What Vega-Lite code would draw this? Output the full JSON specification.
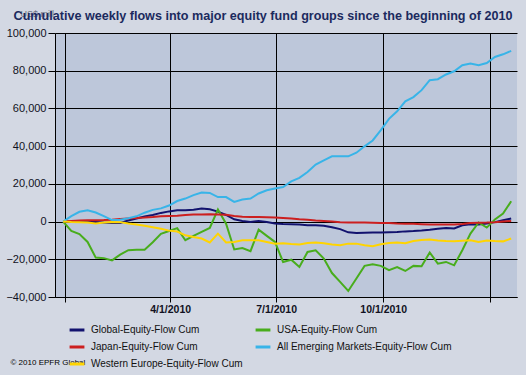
{
  "$schema": "https://vega.github.io/schema/vega-lite/v6.json",
  "autosize": "none",
  "width": 462,
  "height": 264,
  "padding": {"left": 55, "top": 33, "right": 9, "bottom": 78},
  "background": "#d3d8e3",
  "title": {
    "text": "Cumulative weekly flows into major equity fund groups since the beginning of 2010",
    "anchor": "middle",
    "dx": -23,
    "dy": 20,
    "fontSize": 12.6,
    "font": "Liberation Sans",
    "fontWeight": "bold",
    "color": "#1b2a5e",
    "offset": 6
  },
  "config": {
    "view": {"stroke": null, "fill": "#bdc7da"},
    "font": "Liberation Sans",
    "axis": {
      "domainColor": "#000000",
      "gridColor": "#000000",
      "gridOpacity": 1,
      "gridWidth": 1,
      "tickColor": "#000000",
      "labelColor": "#111122",
      "labelFont": "Liberation Sans"
    }
  },
  "data": {
    "values": [
      {"d": "2009-12-30", "Global-Equity-Flow Cum": 0, "USA-Equity-Flow Cum": 0, "Japan-Equity-Flow Cum": 0, "All Emerging Markets-Equity-Flow Cum": 0, "Western Europe-Equity-Flow Cum": 0},
      {"d": "2010-01-06", "Global-Equity-Flow Cum": 200, "USA-Equity-Flow Cum": -5000, "Japan-Equity-Flow Cum": 300, "All Emerging Markets-Equity-Flow Cum": 2900, "Western Europe-Equity-Flow Cum": -200},
      {"d": "2010-01-13", "Global-Equity-Flow Cum": 300, "USA-Equity-Flow Cum": -6600, "Japan-Equity-Flow Cum": 600, "All Emerging Markets-Equity-Flow Cum": 5200, "Western Europe-Equity-Flow Cum": -300},
      {"d": "2010-01-20", "Global-Equity-Flow Cum": 0, "USA-Equity-Flow Cum": -10800, "Japan-Equity-Flow Cum": 700, "All Emerging Markets-Equity-Flow Cum": 6000, "Western Europe-Equity-Flow Cum": -500},
      {"d": "2010-01-27", "Global-Equity-Flow Cum": -200, "USA-Equity-Flow Cum": -19100, "Japan-Equity-Flow Cum": 700, "All Emerging Markets-Equity-Flow Cum": 4800, "Western Europe-Equity-Flow Cum": -1000},
      {"d": "2010-02-03", "Global-Equity-Flow Cum": -500, "USA-Equity-Flow Cum": -19400, "Japan-Equity-Flow Cum": 800, "All Emerging Markets-Equity-Flow Cum": 2900, "Western Europe-Equity-Flow Cum": -500},
      {"d": "2010-02-10", "Global-Equity-Flow Cum": -700, "USA-Equity-Flow Cum": -20600, "Japan-Equity-Flow Cum": 1000, "All Emerging Markets-Equity-Flow Cum": 800, "Western Europe-Equity-Flow Cum": -200},
      {"d": "2010-02-17", "Global-Equity-Flow Cum": -700, "USA-Equity-Flow Cum": -17500, "Japan-Equity-Flow Cum": 1300, "All Emerging Markets-Equity-Flow Cum": 1000, "Western Europe-Equity-Flow Cum": -300},
      {"d": "2010-02-24", "Global-Equity-Flow Cum": 600, "USA-Equity-Flow Cum": -15200, "Japan-Equity-Flow Cum": 1600, "All Emerging Markets-Equity-Flow Cum": 1800, "Western Europe-Equity-Flow Cum": -1000},
      {"d": "2010-03-03", "Global-Equity-Flow Cum": 1600, "USA-Equity-Flow Cum": -15000, "Japan-Equity-Flow Cum": 1900, "All Emerging Markets-Equity-Flow Cum": 2800, "Western Europe-Equity-Flow Cum": -1600},
      {"d": "2010-03-10", "Global-Equity-Flow Cum": 2700, "USA-Equity-Flow Cum": -14900, "Japan-Equity-Flow Cum": 2100, "All Emerging Markets-Equity-Flow Cum": 4700, "Western Europe-Equity-Flow Cum": -2200},
      {"d": "2010-03-17", "Global-Equity-Flow Cum": 3500, "USA-Equity-Flow Cum": -11000, "Japan-Equity-Flow Cum": 2400, "All Emerging Markets-Equity-Flow Cum": 6200, "Western Europe-Equity-Flow Cum": -3000},
      {"d": "2010-03-24", "Global-Equity-Flow Cum": 4600, "USA-Equity-Flow Cum": -6500, "Japan-Equity-Flow Cum": 2800, "All Emerging Markets-Equity-Flow Cum": 7000, "Western Europe-Equity-Flow Cum": -3800},
      {"d": "2010-03-31", "Global-Equity-Flow Cum": 5400, "USA-Equity-Flow Cum": -5000, "Japan-Equity-Flow Cum": 3000, "All Emerging Markets-Equity-Flow Cum": 8500, "Western Europe-Equity-Flow Cum": -4800},
      {"d": "2010-04-07", "Global-Equity-Flow Cum": 6000, "USA-Equity-Flow Cum": -3500, "Japan-Equity-Flow Cum": 3100, "All Emerging Markets-Equity-Flow Cum": 10900, "Western Europe-Equity-Flow Cum": -5300},
      {"d": "2010-04-14", "Global-Equity-Flow Cum": 6000, "USA-Equity-Flow Cum": -9900, "Japan-Equity-Flow Cum": 3500, "All Emerging Markets-Equity-Flow Cum": 12200, "Western Europe-Equity-Flow Cum": -7300},
      {"d": "2010-04-21", "Global-Equity-Flow Cum": 6300, "USA-Equity-Flow Cum": -7600, "Japan-Equity-Flow Cum": 3700, "All Emerging Markets-Equity-Flow Cum": 14000, "Western Europe-Equity-Flow Cum": -8200},
      {"d": "2010-04-28", "Global-Equity-Flow Cum": 6900, "USA-Equity-Flow Cum": -5500, "Japan-Equity-Flow Cum": 3800, "All Emerging Markets-Equity-Flow Cum": 15400, "Western Europe-Equity-Flow Cum": -9000},
      {"d": "2010-05-05", "Global-Equity-Flow Cum": 6500, "USA-Equity-Flow Cum": -3400, "Japan-Equity-Flow Cum": 3900, "All Emerging Markets-Equity-Flow Cum": 15200, "Western Europe-Equity-Flow Cum": -11100},
      {"d": "2010-05-12", "Global-Equity-Flow Cum": 5300, "USA-Equity-Flow Cum": 6400, "Japan-Equity-Flow Cum": 3800, "All Emerging Markets-Equity-Flow Cum": 13000, "Western Europe-Equity-Flow Cum": -6400},
      {"d": "2010-05-19", "Global-Equity-Flow Cum": 3500, "USA-Equity-Flow Cum": -1100, "Japan-Equity-Flow Cum": 3600, "All Emerging Markets-Equity-Flow Cum": 13000, "Western Europe-Equity-Flow Cum": -11100},
      {"d": "2010-05-26", "Global-Equity-Flow Cum": 1200, "USA-Equity-Flow Cum": -14800, "Japan-Equity-Flow Cum": 3000, "All Emerging Markets-Equity-Flow Cum": 10400, "Western Europe-Equity-Flow Cum": -10800},
      {"d": "2010-06-02", "Global-Equity-Flow Cum": 300, "USA-Equity-Flow Cum": -14000, "Japan-Equity-Flow Cum": 2500, "All Emerging Markets-Equity-Flow Cum": 11700, "Western Europe-Equity-Flow Cum": -9900},
      {"d": "2010-06-09", "Global-Equity-Flow Cum": -200, "USA-Equity-Flow Cum": -15700, "Japan-Equity-Flow Cum": 2400, "All Emerging Markets-Equity-Flow Cum": 12200, "Western Europe-Equity-Flow Cum": -9900},
      {"d": "2010-06-16", "Global-Equity-Flow Cum": 300, "USA-Equity-Flow Cum": -4300, "Japan-Equity-Flow Cum": 2400, "All Emerging Markets-Equity-Flow Cum": 14900, "Western Europe-Equity-Flow Cum": -9900},
      {"d": "2010-06-23", "Global-Equity-Flow Cum": -200, "USA-Equity-Flow Cum": -7600, "Japan-Equity-Flow Cum": 2300, "All Emerging Markets-Equity-Flow Cum": 16600, "Western Europe-Equity-Flow Cum": -10800},
      {"d": "2010-06-30", "Global-Equity-Flow Cum": -1000, "USA-Equity-Flow Cum": -10800, "Japan-Equity-Flow Cum": 2100, "All Emerging Markets-Equity-Flow Cum": 17500, "Western Europe-Equity-Flow Cum": -11700},
      {"d": "2010-07-07", "Global-Equity-Flow Cum": -1300, "USA-Equity-Flow Cum": -21400, "Japan-Equity-Flow Cum": 1900, "All Emerging Markets-Equity-Flow Cum": 18300, "Western Europe-Equity-Flow Cum": -11500},
      {"d": "2010-07-14", "Global-Equity-Flow Cum": -1400, "USA-Equity-Flow Cum": -20200, "Japan-Equity-Flow Cum": 1600, "All Emerging Markets-Equity-Flow Cum": 21300, "Western Europe-Equity-Flow Cum": -11900},
      {"d": "2010-07-21", "Global-Equity-Flow Cum": -1600, "USA-Equity-Flow Cum": -24100, "Japan-Equity-Flow Cum": 1200, "All Emerging Markets-Equity-Flow Cum": 23200, "Western Europe-Equity-Flow Cum": -12200},
      {"d": "2010-07-28", "Global-Equity-Flow Cum": -2000, "USA-Equity-Flow Cum": -16100, "Japan-Equity-Flow Cum": 1000, "All Emerging Markets-Equity-Flow Cum": 26300, "Western Europe-Equity-Flow Cum": -11400},
      {"d": "2010-08-04", "Global-Equity-Flow Cum": -2000, "USA-Equity-Flow Cum": -15200, "Japan-Equity-Flow Cum": 600, "All Emerging Markets-Equity-Flow Cum": 30200, "Western Europe-Equity-Flow Cum": -11100},
      {"d": "2010-08-11", "Global-Equity-Flow Cum": -2200, "USA-Equity-Flow Cum": -19600, "Japan-Equity-Flow Cum": 300, "All Emerging Markets-Equity-Flow Cum": 32500, "Western Europe-Equity-Flow Cum": -11500},
      {"d": "2010-08-18", "Global-Equity-Flow Cum": -3000, "USA-Equity-Flow Cum": -27300, "Japan-Equity-Flow Cum": 0, "All Emerging Markets-Equity-Flow Cum": 34600, "Western Europe-Equity-Flow Cum": -12200},
      {"d": "2010-08-25", "Global-Equity-Flow Cum": -4000, "USA-Equity-Flow Cum": -32000, "Japan-Equity-Flow Cum": -400, "All Emerging Markets-Equity-Flow Cum": 34600, "Western Europe-Equity-Flow Cum": -12600},
      {"d": "2010-09-01", "Global-Equity-Flow Cum": -5700, "USA-Equity-Flow Cum": -36800, "Japan-Equity-Flow Cum": -500, "All Emerging Markets-Equity-Flow Cum": 34600, "Western Europe-Equity-Flow Cum": -11700},
      {"d": "2010-09-08", "Global-Equity-Flow Cum": -6000, "USA-Equity-Flow Cum": -30200, "Japan-Equity-Flow Cum": -500, "All Emerging Markets-Equity-Flow Cum": 36500, "Western Europe-Equity-Flow Cum": -11700},
      {"d": "2010-09-15", "Global-Equity-Flow Cum": -5900, "USA-Equity-Flow Cum": -23500, "Japan-Equity-Flow Cum": -500, "All Emerging Markets-Equity-Flow Cum": 39900, "Western Europe-Equity-Flow Cum": -12500},
      {"d": "2010-09-22", "Global-Equity-Flow Cum": -5800, "USA-Equity-Flow Cum": -22700, "Japan-Equity-Flow Cum": -600, "All Emerging Markets-Equity-Flow Cum": 43000, "Western Europe-Equity-Flow Cum": -13100},
      {"d": "2010-09-29", "Global-Equity-Flow Cum": -5800, "USA-Equity-Flow Cum": -23500, "Japan-Equity-Flow Cum": -700, "All Emerging Markets-Equity-Flow Cum": 48500, "Western Europe-Equity-Flow Cum": -12000},
      {"d": "2010-10-06", "Global-Equity-Flow Cum": -5600, "USA-Equity-Flow Cum": -25800, "Japan-Equity-Flow Cum": -800, "All Emerging Markets-Equity-Flow Cum": 54500, "Western Europe-Equity-Flow Cum": -11400},
      {"d": "2010-10-13", "Global-Equity-Flow Cum": -5500, "USA-Equity-Flow Cum": -24100, "Japan-Equity-Flow Cum": -1000, "All Emerging Markets-Equity-Flow Cum": 58500, "Western Europe-Equity-Flow Cum": -11100},
      {"d": "2010-10-20", "Global-Equity-Flow Cum": -5200, "USA-Equity-Flow Cum": -26200, "Japan-Equity-Flow Cum": -1100, "All Emerging Markets-Equity-Flow Cum": 63800, "Western Europe-Equity-Flow Cum": -11500},
      {"d": "2010-10-27", "Global-Equity-Flow Cum": -5000, "USA-Equity-Flow Cum": -23500, "Japan-Equity-Flow Cum": -1200, "All Emerging Markets-Equity-Flow Cum": 66000, "Western Europe-Equity-Flow Cum": -10300},
      {"d": "2010-11-03", "Global-Equity-Flow Cum": -4700, "USA-Equity-Flow Cum": -23700, "Japan-Equity-Flow Cum": -1400, "All Emerging Markets-Equity-Flow Cum": 69700, "Western Europe-Equity-Flow Cum": -9800},
      {"d": "2010-11-10", "Global-Equity-Flow Cum": -4300, "USA-Equity-Flow Cum": -16400, "Japan-Equity-Flow Cum": -1600, "All Emerging Markets-Equity-Flow Cum": 75000, "Western Europe-Equity-Flow Cum": -9500},
      {"d": "2010-11-17", "Global-Equity-Flow Cum": -3800, "USA-Equity-Flow Cum": -22300, "Japan-Equity-Flow Cum": -1600, "All Emerging Markets-Equity-Flow Cum": 75500, "Western Europe-Equity-Flow Cum": -10000},
      {"d": "2010-11-24", "Global-Equity-Flow Cum": -3400, "USA-Equity-Flow Cum": -21400, "Japan-Equity-Flow Cum": -1600, "All Emerging Markets-Equity-Flow Cum": 78000, "Western Europe-Equity-Flow Cum": -10300},
      {"d": "2010-12-01", "Global-Equity-Flow Cum": -3700, "USA-Equity-Flow Cum": -23200, "Japan-Equity-Flow Cum": -1600, "All Emerging Markets-Equity-Flow Cum": 79700, "Western Europe-Equity-Flow Cum": -10500},
      {"d": "2010-12-08", "Global-Equity-Flow Cum": -2000, "USA-Equity-Flow Cum": -15200, "Japan-Equity-Flow Cum": -1300, "All Emerging Markets-Equity-Flow Cum": 82900, "Western Europe-Equity-Flow Cum": -10200},
      {"d": "2010-12-15", "Global-Equity-Flow Cum": -1400, "USA-Equity-Flow Cum": -6400, "Japan-Equity-Flow Cum": -800, "All Emerging Markets-Equity-Flow Cum": 83800, "Western Europe-Equity-Flow Cum": -9900},
      {"d": "2010-12-22", "Global-Equity-Flow Cum": -1600, "USA-Equity-Flow Cum": -500, "Japan-Equity-Flow Cum": -600, "All Emerging Markets-Equity-Flow Cum": 82900, "Western Europe-Equity-Flow Cum": -10800},
      {"d": "2010-12-29", "Global-Equity-Flow Cum": -1000, "USA-Equity-Flow Cum": -3200, "Japan-Equity-Flow Cum": -500, "All Emerging Markets-Equity-Flow Cum": 84100, "Western Europe-Equity-Flow Cum": -10000},
      {"d": "2011-01-05", "Global-Equity-Flow Cum": -300, "USA-Equity-Flow Cum": 1100, "Japan-Equity-Flow Cum": -300, "All Emerging Markets-Equity-Flow Cum": 87300, "Western Europe-Equity-Flow Cum": -10300},
      {"d": "2011-01-12", "Global-Equity-Flow Cum": 700, "USA-Equity-Flow Cum": 4200, "Japan-Equity-Flow Cum": 0, "All Emerging Markets-Equity-Flow Cum": 88700, "Western Europe-Equity-Flow Cum": -10500},
      {"d": "2011-01-19", "Global-Equity-Flow Cum": 1600, "USA-Equity-Flow Cum": 10800, "Japan-Equity-Flow Cum": 300, "All Emerging Markets-Equity-Flow Cum": 90500, "Western Europe-Equity-Flow Cum": -9000}
    ]
  },
  "transform": [
    {"fold": ["Global-Equity-Flow Cum", "USA-Equity-Flow Cum", "Japan-Equity-Flow Cum", "All Emerging Markets-Equity-Flow Cum", "Western Europe-Equity-Flow Cum"], "as": ["series", "value"]}
  ],
  "mark": {"type": "line", "strokeWidth": 2, "clip": true},
  "encoding": {
    "x": {
      "field": "d",
      "type": "temporal",
      "scale": {"type": "utc", "domain": [{"year": 2009, "month": 12, "date": 23, "utc": true}, {"year": 2011, "month": 1, "date": 24, "utc": true}], "nice": false},
      "axis": {
        "values": [
          {"year": 2010, "month": 1, "date": 1, "utc": true},
          {"year": 2010, "month": 4, "date": 1, "utc": true},
          {"year": 2010, "month": 7, "date": 1, "utc": true},
          {"year": 2010, "month": 10, "date": 1, "utc": true},
          {"year": 2011, "month": 1, "date": 1, "utc": true}
        ],
        "labelExpr": "utcmonth(datum.value) == 0 ? '' : utcFormat(datum.value, '%-m/%-d/%Y')",
        "labelFontWeight": "bold",
        "labelFontSize": 10.5,
        "labelPadding": 2,
        "tickSize": 5,
        "grid": true,
        "title": "© 2010 EPFR Global",
        "titleX": -45,
        "titleY": 65,
        "titleAlign": "left",
        "titleBaseline": "middle",
        "titleFontSize": 8,
        "titleFontWeight": "normal",
        "titleColor": "#000000"
      }
    },
    "y": {
      "field": "value",
      "type": "quantitative",
      "scale": {"domain": [-40000, 100000], "nice": false, "zero": false},
      "axis": {
        "values": [-40000, -20000, 0, 20000, 40000, 60000, 80000, 100000],
        "format": ",d",
        "labelFontSize": 11,
        "tickSize": 7,
        "labelPadding": 2,
        "grid": true,
        "title": "US$ mill",
        "titleAngle": 0,
        "titleX": -35,
        "titleY": -20,
        "titleAlign": "left",
        "titleBaseline": "middle",
        "titleFontSize": 9,
        "titleFontWeight": "normal",
        "titleColor": "#6a7080"
      }
    },
    "color": {
      "field": "series",
      "type": "nominal",
      "scale": {
        "domain": ["Global-Equity-Flow Cum", "Japan-Equity-Flow Cum", "Western Europe-Equity-Flow Cum", "USA-Equity-Flow Cum", "All Emerging Markets-Equity-Flow Cum"],
        "range": ["#12126e", "#cc1f1f", "#ffd400", "#48ad1c", "#38b4e8"]
      },
      "legend": {
        "title": null,
        "orient": "none",
        "legendX": 13,
        "legendY": 288,
        "columns": 2,
        "columnPadding": 6,
        "rowPadding": 2,
        "symbolType": "stroke",
        "symbolSize": 220,
        "symbolStrokeWidth": 3,
        "labelFontSize": 10,
        "labelColor": "#111111",
        "labelOffset": 5,
        "labelLimit": 300
      }
    }
  }
}
